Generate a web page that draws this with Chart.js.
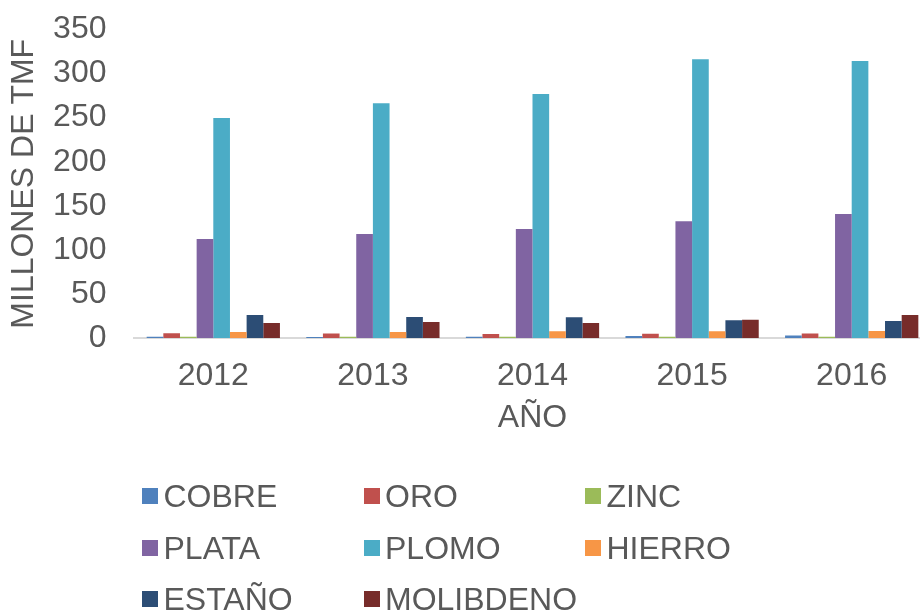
<!DOCTYPE html>
<html><head><meta charset="utf-8">
<script src="https://cdn.jsdelivr.net/npm/chart.js@4.4.0/dist/chart.umd.min.js"></script>
<style>
html,body{margin:0;padding:0;background:#fff;overflow:hidden;width:920px;height:610px;}
#wrap{position:absolute;left:0;top:0;width:935px;height:437px;}
#legend{position:absolute;left:0;top:0;width:920px;height:610px;font-family:'Liberation Sans',Arial,sans-serif;font-size:32px;color:#595959;}
.sw{position:absolute;width:16px;height:16px;}
.lt{position:absolute;line-height:32px;white-space:nowrap;}
</style></head><body>
<div id="wrap"><canvas id="c" width="935" height="437"></canvas></div>
<div id="legend"></div>
<script>
// ---- data ----
const years = ['2012', '2013', '2014', '2015', '2016'];
const cobre     = [1.5, 1.2, 1.4, 2.4, 2.8];
const oro       = [5.3, 5.2, 4.6, 4.9, 5.0];
const zinc      = [1.3, 1.3, 1.3, 1.4, 1.3];
const plata     = [112.3, 118.0, 123.7, 132.4, 140.7];
const plomo     = [249.6, 266.3, 276.8, 316.2, 314.3];
const hierro    = [6.8, 6.8, 7.6, 7.7, 8.0];
const estano    = [26.0, 23.8, 23.5, 20.0, 19.3];
const molibdeno = [17.0, 18.2, 17.0, 20.8, 26.1];
const seriesNames = ['COBRE', 'ORO', 'ZINC', 'PLATA', 'PLOMO', 'HIERRO', 'ESTAÑO', 'MOLIBDENO'];
const yTicks = [0, 50, 100, 150, 200, 250, 300, 350];
const yTitle = 'MILLONES DE TMF';
const xTitle = 'AÑO';

// ---- styles ----
const seriesData = [cobre, oro, zinc, plata, plomo, hierro, estano, molibdeno];
const seriesColors = ['#4F81BD', '#C0504D', '#9BBB59', '#8064A2', '#4BACC6', '#F79646', '#2C4D75', '#772C2A'];
const FAMILY = "'Liberation Sans', Arial, sans-serif";
const TXT = '#595959';
const font = {family: FAMILY, size: 32};

new Chart(document.getElementById('c').getContext('2d'), {
  type: 'bar',
  data: {
    labels: years,
    datasets: seriesNames.map((n, i) => ({
      label: n,
      data: seriesData[i],
      backgroundColor: seriesColors[i],
      borderWidth: 0,
      categoryPercentage: 0.835,
      barPercentage: 1.0
    }))
  },
  options: {
    responsive: false,
    animation: false,
    layout: {padding: {top: 29.5, right: 3.5, bottom: 0, left: 0}},
    plugins: {legend: {display: false}, tooltip: {enabled: false}},
    scales: {
      x: {
        grid: {display: false, drawTicks: false},
        border: {display: true, color: '#d9d9d9', width: 2},
        ticks: {font: font, color: TXT, padding: 18.8, maxRotation: 0, minRotation: 0, autoSkip: false},
        title: {display: true, text: xTitle, font: font, color: TXT, padding: {top: 5, bottom: 0}},
        afterFit(s) { s.height = 99; s.paddingLeft = 0; s.paddingRight = 0; }
      },
      y: {
        min: yTicks[0], max: yTicks[yTicks.length - 1],
        grid: {display: false, drawTicks: false},
        border: {display: false},
        ticks: {stepSize: yTicks[1] - yTicks[0], font: font, color: TXT, padding: 27, autoSkip: false},
        title: {display: true, text: yTitle, font: font, color: TXT, padding: {top: 4.8, bottom: 0}},
        afterFit(s) { s.width = 133.5; s.paddingTop = 0; s.paddingBottom = 0; }
      }
    }
  }
});

// ---- legend (3-column grid) ----
const lg = document.getElementById('legend');
const colX = [142, 363.5, 585];
const rowY = [496, 547.5, 599];
seriesNames.forEach((n, i) => {
  const c = i % 3, r = Math.floor(i / 3);
  const sw = document.createElement('div');
  sw.className = 'sw';
  sw.style.left = colX[c] + 'px';
  sw.style.top = (rowY[r] - 8) + 'px';
  sw.style.background = seriesColors[i];
  lg.appendChild(sw);
  const t = document.createElement('div');
  t.className = 'lt';
  t.style.left = (colX[c] + 21.5) + 'px';
  t.style.top = (rowY[r] - 15.6) + 'px';
  t.textContent = n;
  lg.appendChild(t);
});
</script>
</body></html>
